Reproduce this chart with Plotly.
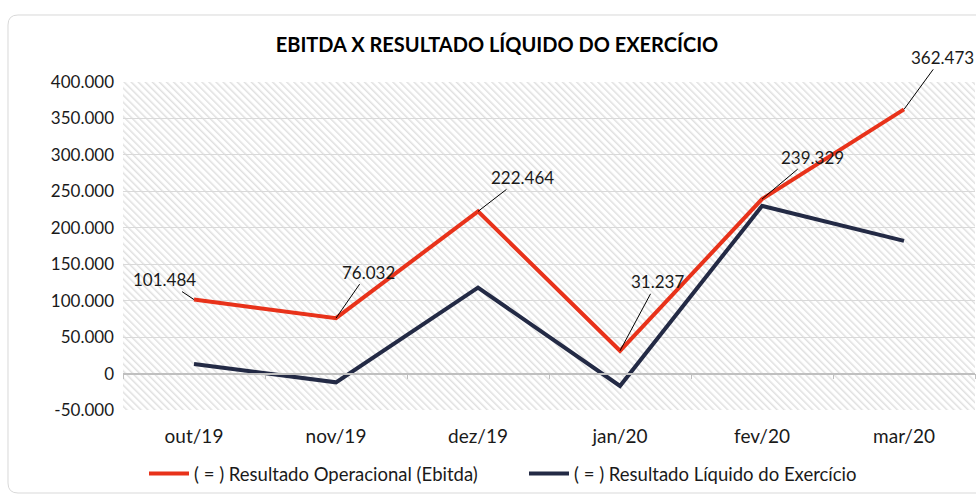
import base64
import plotly.graph_objects as go

# ---------------- data ----------------
categories = ["out/19", "nov/19", "dez/19", "jan/20", "fev/20", "mar/20"]
ebitda = [101484, 76032, 222464, 31237, 239329, 362473]
resultado_liquido = [13000, -12000, 118000, -17000, 230000, 182000]
ebitda_name = "( = ) Resultado Operacional (Ebitda)"
liquido_name = "( = ) Resultado Líquido do Exercício"
title_text = "EBITDA X RESULTADO LÍQUIDO DO EXERCÍCIO"
y_tickvals = [-50000, 0, 50000, 100000, 150000, 200000, 250000, 300000, 350000, 400000]
y_ticktext = ["-50.000", "0", "50.000", "100.000", "150.000", "200.000",
              "250.000", "300.000", "350.000", "400.000"]
# label leader-line offsets (pixels) for each EBITDA data label
label_dx = [-30, 32, 44, 37, 50, 38]
label_dy = [-20, -46, -34, -69, -42, -52]

# ---------------- layout geometry ----------------
W, H = 976, 498
ML, MR, MT, MB = 123, 1, 82, 88
PW, PH = W - ML - MR, H - MT - MB

FONT = "Lato"
RED = "#E8321A"
NAVY = "#232A45"


def fmt(v):
    return f"{v:,}".replace(",", ".")


def px(x, y):
    return (x - ML) / PW, (H - MB - y) / PH


fig = go.Figure()
fig.add_trace(go.Scatter(x=categories, y=ebitda, mode="lines", name=ebitda_name,
                         line=dict(color=RED, width=4)))
fig.add_trace(go.Scatter(x=categories, y=resultado_liquido, mode="lines", name=liquido_name,
                         line=dict(color=NAVY, width=4)))

for c, v, dx, dy in zip(categories, ebitda, label_dx, label_dy):
    fig.add_annotation(x=c, y=v, text=fmt(v), showarrow=True, arrowhead=0,
                       arrowwidth=1, arrowcolor="black", ax=dx, ay=dy,
                       font=dict(family=FONT, size=17, color="#1a1a1a"))

# hatch background as svg image
svg = (f"<svg xmlns='http://www.w3.org/2000/svg' width='{PW}' height='{PH}'>"
       "<defs><pattern id='h' patternUnits='userSpaceOnUse' width='5' height='5' "
       "patternTransform='rotate(-45)'><rect x='0' y='0' width='1.5' height='5' fill='#e0e0e0'/>"
       "</pattern></defs>"
       f"<rect width='{PW}' height='{PH}' fill='white'/>"
       f"<rect width='{PW}' height='{PH}' fill='url(#h)'/></svg>")
src = "data:image/svg+xml;base64," + base64.b64encode(svg.encode()).decode()
fig.add_layout_image(source=src, xref="paper", yref="paper", x=0, y=1,
                     sizex=1, sizey=1, xanchor="left", yanchor="top",
                     sizing="stretch", layer="below")

# rounded card border
x0, y0, x1, y1, r = 8, 15, 995, 493, 10
def P(x, y):
    a, b = px(x, y)
    return f"{a:.5f},{b:.5f}"
path = (f"M {P(x0 + r, y0)} L {P(x1 - r, y0)} Q {P(x1, y0)} {P(x1, y0 + r)} "
        f"L {P(x1, y1 - r)} Q {P(x1, y1)} {P(x1 - r, y1)} L {P(x0 + r, y1)} "
        f"Q {P(x0, y1)} {P(x0, y1 - r)} L {P(x0, y0 + r)} Q {P(x0, y0)} {P(x0 + r, y0)} Z")
fig.add_shape(type="path", path=path, xref="paper", yref="paper",
              line=dict(color="#d9d9d9", width=1), layer="below")

zero_pos = (0 - y_tickvals[0]) / (y_tickvals[-1] - y_tickvals[0])

fig.update_layout(
    width=W, height=H,
    margin=dict(l=ML, r=MR, t=MT, b=MB),
    paper_bgcolor="white", plot_bgcolor="rgba(0,0,0,0)",
    font=dict(family=FONT, size=17, color="#1a1a1a"),
    title=dict(text=f"<b>{title_text}</b>", x=(497 / W), xanchor="center",
               y=1 - 45 / H, yanchor="middle",
               font=dict(family=FONT, size=20, color="#000000")),
    showlegend=True,
    legend=dict(orientation="h", x=px(524, 0)[0], xanchor="center",
                y=px(0, 474)[1], yanchor="middle",
                font=dict(family=FONT, size=18.5, color="#1a1a1a"),
                bgcolor="rgba(0,0,0,0)", itemwidth=40,
                entrywidth=325, entrywidthmode="pixels"),
    xaxis=dict(type="category", range=[-0.5, len(categories) - 0.5],
               anchor="free", position=zero_pos,
               showline=True, linecolor="#bfbfbf", linewidth=1.5,
               tickson="boundaries", ticks="outside", ticklen=5, tickcolor="#bfbfbf",
               showgrid=False, ticklabelstandoff=46,
               tickfont=dict(family=FONT, size=19)),
    yaxis=dict(range=[y_tickvals[0], y_tickvals[-1]], tickvals=y_tickvals,
               ticktext=y_ticktext, showgrid=True, gridcolor="#d9d9d9", gridwidth=1,
               zeroline=False, showline=False, ticks="", ticklabelstandoff=8,
               tickfont=dict(family=FONT, size=17)),
)

fig.write_html("out.html", config={"displayModeBar": False},
               post_script="document.body.style.margin='0';document.body.style.overflow='hidden';")
